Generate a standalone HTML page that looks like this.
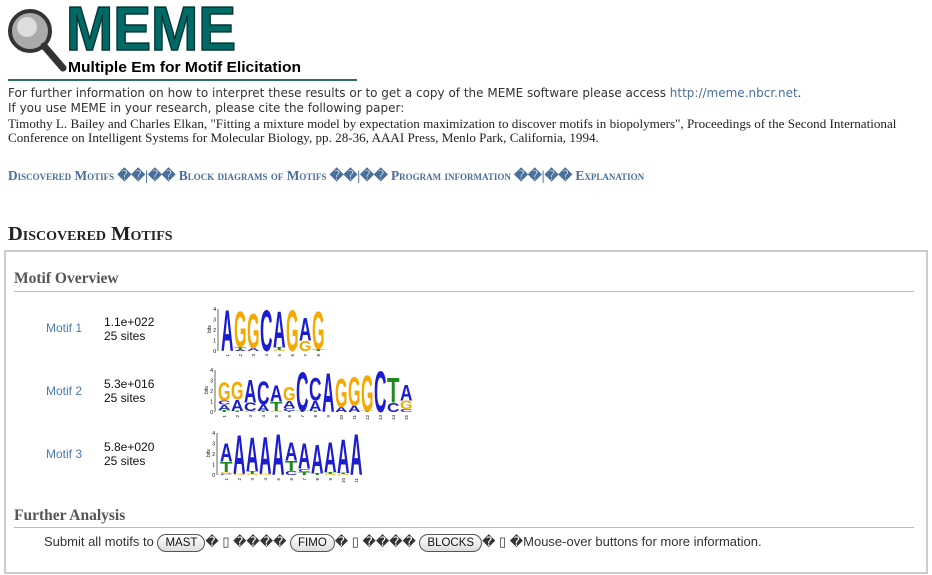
<!DOCTYPE html>
<html><head><meta charset="utf-8">
<style>
body{margin:0;width:932px;height:575px;background:#fff;position:relative;overflow:hidden;font-family:"Liberation Sans",sans-serif}
.a{position:absolute;white-space:nowrap}
.v{font-family:"DejaVu Sans",sans-serif;font-size:12px;color:#333}
.s{font-family:"Liberation Serif",serif;font-size:13.1px;color:#222}
.nav{font-family:"Liberation Serif",serif;font-variant:small-caps;font-weight:bold;font-size:13.4px;color:#4a6f9a}
.btn{display:inline-block;border:1px solid #555;border-radius:9px;padding:0 7px;font-size:11.5px;background:linear-gradient(#fff,#ddd);color:#111;line-height:16px}
</style></head><body>
<svg class="a" style="left:0;top:0" width="370" height="85">
<circle cx="30" cy="31" r="20" fill="#aaa" stroke="#333" stroke-width="4"/>
<circle cx="27" cy="27" r="10" fill="#ddd"/>
<line x1="44" y1="46" x2="63" y2="68" stroke="#333" stroke-width="7" stroke-linecap="round"/>
<text x="66" y="50" font-family="Liberation Sans" font-weight="bold" font-size="62" fill="#006a66" textLength="170" lengthAdjust="spacingAndGlyphs" stroke="#033" stroke-width="1.5">MEME</text>
<text x="68" y="72" font-family="Liberation Sans" font-weight="bold" font-size="15" fill="#000" textLength="233" lengthAdjust="spacingAndGlyphs">Multiple Em for Motif Elicitation</text>
<rect x="8" y="79" width="349" height="2" fill="#2a6f6a"/>
</svg>
<div class="a v" style="left:8px;top:86px">For further information on how to interpret these results or to get a copy of the MEME software please access <span style="color:#4a6f9a">http://meme.nbcr.net</span>.</div>
<div class="a v" style="left:8px;top:101px">If you use MEME in your research, please cite the following paper:</div>
<div class="a s" style="left:8px;top:116px">Timothy L. Bailey and Charles Elkan, "Fitting a mixture model by expectation maximization to discover motifs in biopolymers", Proceedings of the Second International</div>
<div class="a s" style="left:8px;top:130px">Conference on Intelligent Systems for Molecular Biology, pp. 28-36, AAAI Press, Menlo Park, California, 1994.</div>
<div class="a nav" style="left:8px;top:168px"><span>Discovered Motifs</span> ��|�� <span>Block diagrams of Motifs</span> ��|�� <span>Program information</span> ��|�� <span>Explanation</span></div>
<div class="a" style="left:8px;top:223px;font-family:'Liberation Serif',serif;font-variant:small-caps;font-weight:bold;font-size:20.5px;color:#222">Discovered Motifs</div>
<div class="a" style="left:4px;top:250px;width:920px;height:320px;border:2px solid #ccc"></div>
<div class="a" style="left:14px;top:270px;font-family:'Liberation Serif',serif;font-weight:bold;font-size:15.5px;color:#555">Motif Overview</div>
<div class="a" style="left:14px;top:291px;width:900px;height:1px;background:#bbb"></div>
<div class="a" style="left:46px;top:321px;font-size:12px;color:#4a7ab5">Motif 1</div>
<div class="a" style="left:104px;top:315px;font-size:12px;color:#111;line-height:14px">1.1e+022<br>25 sites</div>
<div class="a" style="left:46px;top:384px;font-size:12px;color:#4a7ab5">Motif 2</div>
<div class="a" style="left:104px;top:377px;font-size:12px;color:#111;line-height:14px">5.3e+016<br>25 sites</div>
<div class="a" style="left:46px;top:447px;font-size:12px;color:#4a7ab5">Motif 3</div>
<div class="a" style="left:104px;top:440px;font-size:12px;color:#111;line-height:14px">5.8e+020<br>25 sites</div>
<svg id="logos" class="a" style="left:0;top:0" width="932" height="575"></svg>
<div class="a" style="left:14px;top:507px;font-family:'Liberation Serif',serif;font-weight:bold;font-size:15.5px;color:#555">Further Analysis</div>
<div class="a" style="left:14px;top:527px;width:900px;height:1px;background:#bbb"></div>
<div class="a" style="left:44px;top:534px;font-size:13px;color:#333">Submit all motifs to <span class="btn">MAST</span>� ▯ ���� <span class="btn">FIMO</span>� ▯ ���� <span class="btn">BLOCKS</span>� ▯ �Mouse-over buttons for more information.</div>
<script>
// each column: list of [letter, bits], bottom to top
const motif1 = [[["A",4.0]],[["A",0.1],["T",0.3],["G",3.5]],[["A",0.3],["G",3.4]],[["C",4.0]],[["G",0.1],["T",0.3],["A",3.5]],[["G",4.0]],[["G",1.0],["A",2.2]],[["T",0.2],["G",3.7]]];
const motif2 = [[["T",0.2],["A",0.5],["C",0.4],["G",1.8]],[["T",0.1],["A",1.1],["G",1.7]],[["G",0.1],["C",0.8],["A",2.2]],[["T",0.1],["A",0.6],["C",2.3]],[["G",0.1],["T",0.9],["A",1.6]],[["T",0.1],["C",0.3],["A",0.7],["G",1.3]],[["T",0.1],["C",3.8]],[["T",0.1],["A",1.0],["C",2.2]],[["A",3.8]],[["A",0.5],["G",2.8]],[["A",0.6],["G",2.8]],[["T",0.1],["G",3.5]],[["C",4.0]],[["C",0.9],["T",2.4]],[["C",0.3],["G",0.8],["A",1.5]]];
const motif3 = [[["C",0.1],["G",0.2],["T",1.0],["A",1.8]],[["G",0.1],["A",3.8]],[["G",0.1],["T",0.3],["A",3.3]],[["G",0.1],["A",3.6]],[["A",4.0]],[["C",0.4],["T",1.0],["A",1.8]],[["T",0.3],["C",0.3],["A",2.5]],[["T",0.2],["A",2.8]],[["G",0.1],["T",0.2],["A",2.9]],[["G",0.1],["T",0.1],["A",3.3]],[["A",4.0]]];
const logos = [motif1, motif2, motif3];
const logoX = [221, 218, 220];
const logoBase = [351, 412, 475];
const colors = {A:"#1c1cd0",C:"#1c1cd0",G:"#f5a800",T:"#1e8a1e"};
const svg = document.getElementById('logos');
const NS = "http://www.w3.org/2000/svg";
const pxPerBit = 10.5, colW = 13;
logos.forEach((m, li) => {
  const g = document.createElementNS(NS,'g');
  
  
  svg.appendChild(g);
  const x0 = logoX[li], yb = logoBase[li];
  const ax = document.createElementNS(NS,'line');
  ax.setAttribute('x1',x0-3);ax.setAttribute('x2',x0-3);ax.setAttribute('y1',yb);ax.setAttribute('y2',yb-4*pxPerBit);
  ax.setAttribute('stroke','#000');ax.setAttribute('stroke-width','0.6');
  
  
  g.appendChild(ax);
  for(let t=0;t<=4;t++){
    const tx=document.createElementNS(NS,'text');
    tx.setAttribute('x',x0-5);tx.setAttribute('y',yb-t*pxPerBit+2);tx.setAttribute('font-size','5');tx.setAttribute('text-anchor','end');
    tx.textContent=t;
    
    
    g.appendChild(tx);
  }
  const bl=document.createElementNS(NS,'text');
  bl.setAttribute('transform',`translate(${x0-10},${yb-18}) rotate(-90)`);bl.setAttribute('font-size','5');bl.textContent='bits';
  
  
  g.appendChild(bl);
  m.forEach((col, ci) => {
    let y = yb;
    const cx = x0 + ci*colW;
    col.forEach(([L, b]) => {
      const h = b*pxPerBit;
      const t = document.createElementNS(NS,'text');
      t.setAttribute('font-size','10');t.setAttribute('font-weight','bold');t.setAttribute('font-family','Liberation Sans');
      t.setAttribute('textLength','10');t.setAttribute('lengthAdjust','spacingAndGlyphs');
      t.setAttribute('fill',colors[L]);
      t.setAttribute('transform',`translate(${cx},${y}) scale(${(colW-0.5)/10},${h/7.2})`);
      t.textContent=L;
      
      
      g.appendChild(t);
      y -= h;
    });
    const n=document.createElementNS(NS,'text');
    n.setAttribute('transform',`translate(${cx+8},${yb+3}) rotate(-90)`);n.setAttribute('font-size','4.5');n.setAttribute('text-anchor','end');
    n.textContent=ci+1;
    
    
    g.appendChild(n);
  });
});
</script>
</body></html>
